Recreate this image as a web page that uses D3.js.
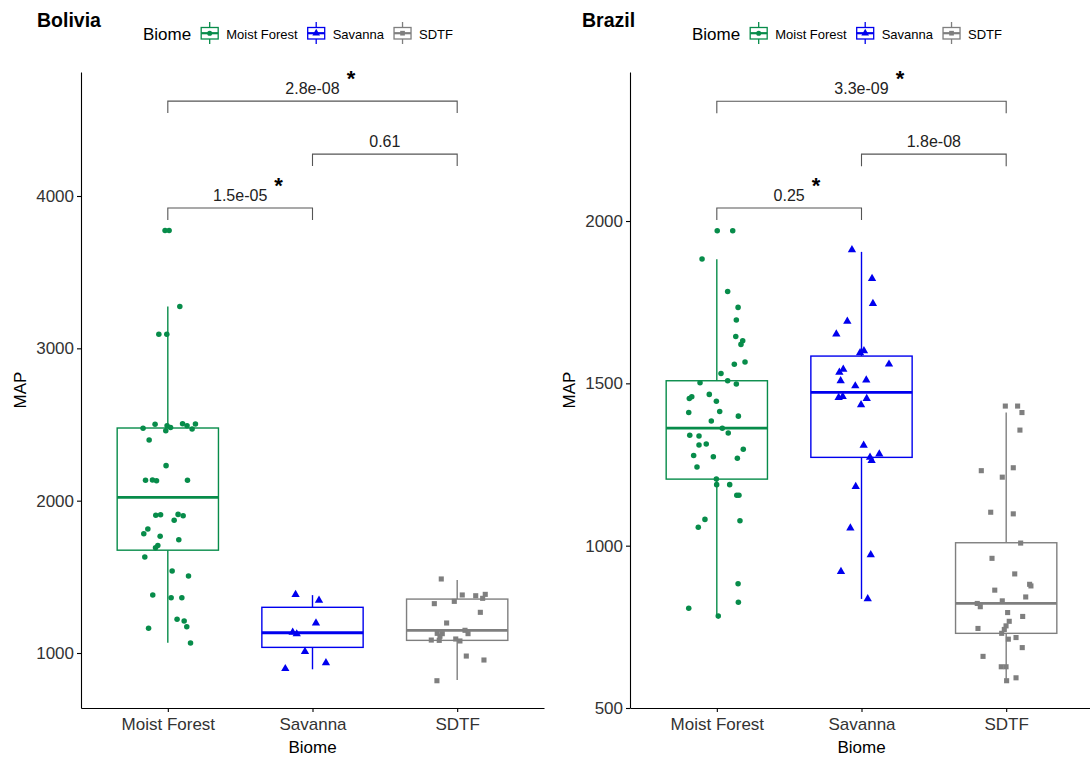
<!DOCTYPE html>
<html lang="en">
<head>
<meta charset="utf-8">
<title>MAP by biome</title>
<script src="https://d3js.org/d3.v7.min.js"></script>
<style>
  body { margin: 0; background: #fff; }
  svg { font-family: "Liberation Sans", Arial, sans-serif; }
</style>
</head>
<body>
<svg id="chart" width="1090" height="760"></svg>
<script>
// categories
var biomes = ["Moist Forest", "Savanna", "SDTF"];

// box stats per biome: [lower whisker, Q1, median, Q3, upper whisker]
var boliviaBoxes = [
  [1068, 1675, 2021, 2477, 3275],
  [893, 1037, 1133, 1300, 1380],
  [823, 1083, 1149, 1354, 1479]
];
var brazilBoxes = [
  [783, 1205, 1362, 1508, 1882],
  [836, 1272, 1472, 1584, 1905],
  [584, 730, 822, 1009, 1410]
];

// jittered points: [MAP, jitter offset in category units]
var boliviaMoist = [
  [2475,-0.171],[2501,-0.088],[2459,-0.014],[2492,-0.005],[2481,0.019],[2505,0.102],[2492,0.133],
  [2470,0.168],[2503,0.191],[2398,-0.129],[2230,-0.012],[2134,-0.154],[2136,-0.106],[2131,-0.078],
  [2134,0.136],[1904,-0.083],[1908,-0.050],[1910,0.071],[1901,0.106],[1871,0.044],[1814,-0.138],
  [1783,-0.166],[1766,-0.053],[1744,0.076],[1705,-0.069],[1691,-0.085],[1630,-0.159],[1538,0.030],
  [1505,0.143],[1381,-0.104],[1363,0.023],[1363,0.097],[1221,0.064],[1210,0.113],[1173,0.131],
  [1162,-0.133],[1066,0.157],[3275,0.083],[3092,-0.062],[3092,-0.007],[3774,-0.019],[3774,0.009]
];
var boliviaSavanna = [
  [1383,-0.117],[1346,0.045],[1197,0.024],[1136,-0.137],[1125,-0.109],[1009,-0.052],[936,0.093],[897,-0.188]
];
var boliviaSDTF = [
  [1486,-0.110],[1381,0.035],[1376,0.128],[1385,0.194],[1359,0.176],[1324,-0.158],[1339,-0.020],
  [1267,0.160],[1197,-0.073],[1149,0.054],[1129,-0.138],[1127,-0.103],[1127,0.075],[1110,-0.119],
  [1085,-0.179],[1083,-0.124],[1092,-0.010],[1079,0.019],[980,0.063],[954,0.185],[818,-0.140]
];
var brazilMoist = [
  [1970,0.003],[1970,0.110],[1883,-0.102],[1783,0.075],[1734,0.147],[1695,0.135],[1644,0.131],
  [1631,0.179],[1620,0.167],[1559,0.121],[1566,0.195],[1530,0.029],[1502,-0.116],[1508,0.075],
  [1498,0.135],[1459,-0.173],[1453,-0.190],[1466,-0.052],[1445,-0.003],[1410,-0.194],[1413,0.020],
  [1399,0.149],[1384,-0.038],[1362,0.038],[1347,0.079],[1340,-0.187],[1338,-0.123],[1310,-0.123],
  [1313,-0.073],[1297,0.183],[1278,-0.160],[1274,-0.024],[1269,0.142],[1242,-0.137],[1205,-0.003],
  [1188,-0.001],[1188,0.089],[1155,0.138],[1155,0.153],[1081,-0.082],[1057,-0.128],[1077,0.160],
  [883,0.147],[826,0.149],[807,-0.194],[783,0.010]
];
var brazilSavanna = [
  [1911,-0.066],[1823,0.073],[1746,0.079],[1691,-0.098],[1652,-0.174],[1594,-0.010],[1600,0.017],
  [1559,0.190],[1534,-0.153],[1543,-0.126],[1508,-0.144],[1510,0.033],[1492,-0.043],[1456,-0.158],
  [1459,-0.130],[1453,0.036],[1434,-0.003],[1309,0.015],[1272,0.059],[1282,0.123],[1262,0.070],
  [1182,-0.040],[1054,-0.077],[972,0.064],[920,-0.142],[836,0.043]
];
var brazilSDTF = [
  [1430,-0.006],[1430,0.079],[1410,0.109],[1356,0.095],[1231,-0.172],[1240,0.049],[1211,-0.027],
  [1103,-0.107],[1098,0.049],[1008,0.100],[961,-0.098],[913,0.059],[881,0.162],[876,0.171],
  [863,-0.079],[842,0.135],[830,-0.027],[822,-0.200],[812,-0.179],[794,0.010],[782,0.114],
  [767,0.021],[753,-0.001],[742,-0.013],[745,-0.195],[730,-0.031],[712,0.015],[717,0.068],
  [686,0.111],[659,-0.160],[627,-0.034],[627,-0.001],[593,0.068],[584,0.003]
];

// comparisons: [from, to, bracket height, p label, significant]
var boliviaTests = [[1, 3, 4623, "2.8e-08", true], [2, 3, 4275, "0.61", false], [1, 2, 3921, "1.5e-05", true]];
var brazilTests = [[1, 3, 2369, "3.3e-09", true], [2, 3, 2206, "1.8e-08", false], [1, 2, 2040, "0.25", true]];

var boliviaTicks = [1000, 2000, 3000, 4000];
var brazilTicks = [500, 1000, 1500, 2000];

var colors = ["#078C4A", "#0000EE", "#7F7F7F"];
var shapes = [d3.symbolCircle, d3.symbolTriangle, d3.symbolSquare];
var shapeSizes = [24, 30, 26];

var svg = d3.select("#chart");

function drawPanel(p) {
  var g = svg.append("g");
  var x = d3.scaleLinear().domain([0.4, 3.6]).range([p.left, p.right]);
  var y = d3.scaleLinear().domain(p.domain).range([708, 72]);
  var half = 0.35;

  // title
  g.append("text").attr("x", p.titleX).attr("y", 27)
    .attr("font-size", 19.5).attr("font-weight", "bold").attr("fill", "#000").text(p.title);

  // legend
  var lx = p.left + 62;
  var lt = g.append("text").attr("x", lx).attr("y", 40).attr("font-size", 17).attr("fill", "#000").text("Biome");
  lx += lt.node().getComputedTextLength() + 9;
  biomes.forEach(function(b, i) {
    var k = g.append("g").attr("transform", "translate(" + lx + ",0)");
    k.append("line").attr("x1", 9.5).attr("x2", 9.5).attr("y1", 22).attr("y2", 44)
      .attr("stroke", colors[i]).attr("stroke-width", 1.3);
    k.append("rect").attr("x", 1).attr("y", 27.5).attr("width", 17).attr("height", 11.5)
      .attr("fill", "#fff").attr("stroke", colors[i]).attr("stroke-width", 1.3);
    k.append("line").attr("x1", 1).attr("x2", 18).attr("y1", 33.2).attr("y2", 33.2)
      .attr("stroke", colors[i]).attr("stroke-width", 2.2);
    k.append("path").attr("transform", "translate(9.5,33.2)")
      .attr("d", d3.symbol().type(shapes[i]).size(shapeSizes[i] * 0.85)()).attr("fill", colors[i]);
    lx += 26;
    var t = g.append("text").attr("x", lx).attr("y", 38.5).attr("font-size", 13).attr("fill", "#000").text(b);
    lx += t.node().getComputedTextLength() + 9;
  });

  // axes
  var ya = g.append("g").attr("transform", "translate(" + p.left + ",0)")
    .call(d3.axisLeft(y).tickValues(p.ticks).tickFormat(d3.format("d"))
      .tickSize(4).tickSizeOuter(0).tickPadding(3));
  var xa = g.append("g").attr("transform", "translate(0,708)")
    .call(d3.axisBottom(x).tickValues([1, 2, 3]).tickFormat(function(d) { return biomes[d - 1]; })
      .tickSize(4).tickSizeOuter(0).tickPadding(6));
  [ya, xa].forEach(function(a) {
    a.selectAll("path, line").attr("stroke", "#000").attr("stroke-width", 1.1);
    a.selectAll("text").attr("font-size", 17).attr("fill", "#333")
      .attr("font-family", "Liberation Sans, Arial, sans-serif");
  });

  g.append("text").attr("transform", "translate(" + p.ylabX + ",390) rotate(-90)")
    .attr("text-anchor", "middle").attr("font-size", 17).attr("fill", "#000").text("MAP");
  g.append("text").attr("x", x(2)).attr("y", 753)
    .attr("text-anchor", "middle").attr("font-size", 17).attr("fill", "#000").text("Biome");

  // boxes
  p.boxes.forEach(function(s, i) {
    var c = colors[i], cx = x(i + 1);
    var bg = g.append("g").attr("stroke", c).attr("stroke-width", 1.4).attr("fill", "none");
    bg.append("line").attr("x1", cx).attr("x2", cx).attr("y1", y(s[0])).attr("y2", y(s[1]));
    bg.append("line").attr("x1", cx).attr("x2", cx).attr("y1", y(s[3])).attr("y2", y(s[4]));
    bg.append("rect").attr("x", x(i + 1 - half)).attr("y", y(s[3]))
      .attr("width", x(i + 1 + half) - x(i + 1 - half)).attr("height", y(s[1]) - y(s[3]))
      .attr("fill", "#fff");
    bg.append("line").attr("x1", x(i + 1 - half)).attr("x2", x(i + 1 + half))
      .attr("y1", y(s[2])).attr("y2", y(s[2])).attr("stroke-width", 2.8);
  });

  // points
  p.points.forEach(function(pts, i) {
    g.selectAll(null).data(pts).enter().append("path")
      .attr("transform", function(d) { return "translate(" + x(i + 1 + d[1]) + "," + y(d[0]) + ")"; })
      .attr("d", d3.symbol().type(shapes[i]).size(shapeSizes[i])())
      .attr("fill", colors[i]);
  });

  // significance brackets
  p.tests.forEach(function(t) {
    var by = y(t[2]), x1 = x(t[0]), x2 = x(t[1]);
    g.append("path")
      .attr("d", "M" + x1 + "," + (by + 12) + "V" + by + "H" + x2 + "V" + (by + 12))
      .attr("fill", "none").attr("stroke", "#555").attr("stroke-width", 1.1);
    var lab = g.append("text").attr("x", (x1 + x2) / 2).attr("y", by - 7)
      .attr("text-anchor", "middle").attr("font-size", 16).attr("fill", "#222").text(t[3]);
    if (t[4]) {
      var w = lab.node().getComputedTextLength();
      g.append("text").attr("x", (x1 + x2) / 2 + w / 2 + 7).attr("y", by - 15)
        .attr("font-size", 22).attr("font-weight", "bold").attr("fill", "#000").text("*");
    }
  });
}

drawPanel({
  title: "Bolivia", titleX: 37, left: 81, right: 544, ylabX: 26,
  domain: [639, 4814], ticks: boliviaTicks, boxes: boliviaBoxes,
  points: [boliviaMoist, boliviaSavanna, boliviaSDTF], tests: boliviaTests
});
drawPanel({
  title: "Brazil", titleX: 582, left: 630, right: 1093, ylabX: 575,
  domain: [500, 2459], ticks: brazilTicks, boxes: brazilBoxes,
  points: [brazilMoist, brazilSavanna, brazilSDTF], tests: brazilTests
});
</script>
</body>
</html>
